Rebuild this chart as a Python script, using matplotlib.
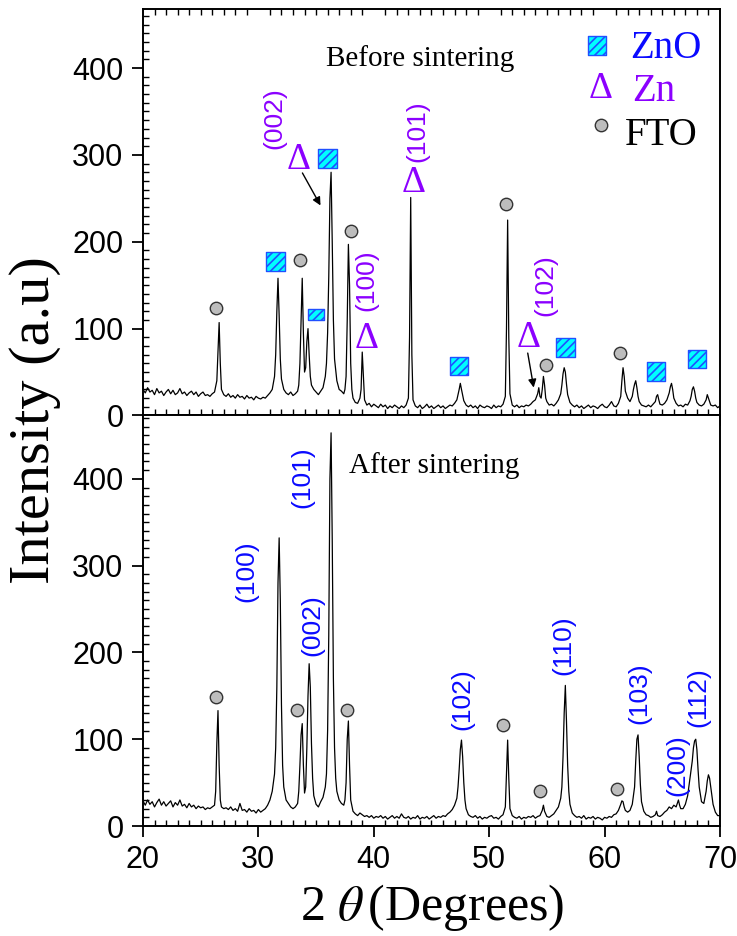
import matplotlib.pyplot as plt
from matplotlib.ticker import MultipleLocator

# XRD trace before sintering (2theta, counts)
tt_before = [
    20.0, 20.2, 20.4, 20.6, 20.8, 21.0, 21.2, 21.4, 21.6, 21.8, 22.0, 22.2, 22.4, 22.6, 22.8, 23.0,
    23.2, 23.4, 23.6, 23.8, 24.0, 24.2, 24.4, 24.6, 24.8, 25.0, 25.2, 25.4, 25.6, 25.8, 26.0, 26.2,
    26.4, 26.5, 26.6, 26.7, 26.8, 27.0,
    27.2, 27.4, 27.6, 27.8, 28.0, 28.2, 28.4, 28.6, 28.8, 29.0, 29.2, 29.4, 29.6, 29.8, 30.0, 30.2,
    30.4, 30.6, 30.8, 31.0,
    31.2, 31.4, 31.5, 31.6, 31.7, 31.8, 31.9, 32.0, 32.2, 32.4,
    32.6, 32.8, 33.0, 33.2, 33.4,
    33.5, 33.6, 33.7, 33.8, 33.9, 34.0, 34.1, 34.2, 34.3, 34.4, 34.5, 34.6, 34.8, 35.0, 35.2, 35.4,
    35.6, 35.8,
    35.9, 36.0, 36.1, 36.2, 36.3, 36.4, 36.5, 36.6, 36.8, 37.0, 37.2, 37.4,
    37.5, 37.6, 37.7, 37.8, 37.9, 38.0, 38.1, 38.2, 38.4, 38.6, 38.8,
    38.9, 39.0, 39.1, 39.2, 39.4, 39.6, 39.8, 40.0,
    40.2, 40.4, 40.6, 40.8, 41.0, 41.2, 41.4, 41.6, 41.8, 42.0, 42.2, 42.4, 42.6, 42.8,
    43.0, 43.1, 43.2, 43.3, 43.4, 43.6,
    43.8, 44.0, 44.2, 44.4, 44.6, 44.8, 45.0, 45.2, 45.4, 45.6, 45.8, 46.0, 46.2, 46.4, 46.6, 46.8,
    47.0,
    47.2, 47.4, 47.5, 47.6, 47.8, 48.0,
    48.2, 48.4, 48.6, 48.8, 49.0, 49.2, 49.4, 49.6, 49.8, 50.0, 50.2, 50.4, 50.6, 50.8, 51.0, 51.2,
    51.4, 51.5, 51.6, 51.7, 51.8, 52.0,
    52.2, 52.4, 52.6, 52.8, 53.0, 53.2, 53.4, 53.6, 53.8,
    54.0, 54.2, 54.3, 54.4, 54.5, 54.6, 54.7, 54.8, 54.9, 55.0, 55.2, 55.4, 55.6, 55.8, 56.0,
    56.2, 56.3, 56.4, 56.5, 56.6, 56.7, 56.8, 57.0, 57.2,
    57.4, 57.6, 57.8, 58.0, 58.2, 58.4, 58.6, 58.8, 59.0, 59.2, 59.4, 59.6, 59.8, 60.0, 60.2, 60.4,
    60.6, 60.8, 61.0, 61.2,
    61.4, 61.5, 61.6, 61.7, 61.8, 62.0, 62.2, 62.4, 62.5, 62.6, 62.7, 62.8, 62.9, 63.0, 63.2,
    63.4, 63.6, 63.8, 64.0, 64.2,
    64.4, 64.5, 64.6, 64.7, 64.8, 65.0, 65.2, 65.4,
    65.6, 65.7, 65.8, 65.9, 66.0, 66.2, 66.4, 66.6, 66.8, 67.0, 67.2, 67.4,
    67.5, 67.6, 67.7, 67.8, 67.9, 68.0, 68.2, 68.4, 68.6, 68.8, 68.9, 69.0, 69.2, 69.4, 69.6, 69.8,
    70.0,
]
counts_before = [
    30, 26, 32, 27, 29, 24, 31, 26, 28, 23, 27, 30, 25, 29, 24, 26,
    31, 25, 27, 23, 26, 28, 24, 27, 22, 25, 27, 23, 24, 22, 25, 27,
    40, 75, 107, 60, 30, 24,
    22, 25, 21, 23, 20, 24, 21, 22, 19, 23, 20, 21, 18, 22, 20, 19,
    21, 20, 23, 26,
    30, 45, 70, 120, 158, 115, 65, 42, 30, 26,
    24, 27, 23, 25, 28,
    35, 60, 110, 158, 95, 50, 55, 85, 100, 70, 45, 35, 30, 27, 24, 28,
    32, 45,
    60, 95, 160, 250, 280, 200, 110, 65, 40, 30, 28, 25,
    30, 45, 110, 197, 150, 60, 30, 20, 15, 14, 20,
    30, 73, 45, 18, 12, 14, 10, 13,
    11, 9, 13, 10, 12, 8, 11, 9, 12, 10, 8, 11, 9, 12,
    20, 90, 251, 70, 18, 11,
    9, 12, 8, 10, 13, 9, 11, 8, 10, 12, 9, 11, 8, 10, 12, 11,
    14,
    18, 30, 37, 30, 17, 12,
    10, 12, 9, 11, 8, 12, 10, 9, 11, 10, 8, 12, 9, 11, 10, 13,
    22, 100, 225, 90, 25, 12,
    10, 12, 9, 11, 10, 12, 11, 13, 16,
    18, 25, 32, 22, 20, 30, 45, 35, 20, 16, 12, 13, 11, 14, 18,
    25, 35, 48, 55, 50, 36, 24, 15, 12,
    10, 12, 9, 11, 8, 10, 12, 9, 11, 10, 8, 11, 13, 10, 9, 12,
    16, 11, 10, 14,
    22, 40, 55, 45, 28, 20, 16, 22, 30, 36, 40, 32, 22, 16, 12,
    11, 10, 12, 10, 13,
    16, 22, 24, 18, 13, 12, 14, 18,
    26, 33, 37, 30, 20, 14, 11, 12, 10, 13, 12, 17,
    22, 30, 33, 28, 20, 15, 12, 11, 13, 18, 24, 20, 12, 11, 12, 9,
    11,
]

# XRD trace after sintering
tt_after = [
    20.0, 20.2, 20.4, 20.6, 20.8, 21.0, 21.2, 21.4, 21.6, 21.8, 22.0, 22.2, 22.4, 22.6, 22.8, 23.0,
    23.2, 23.4, 23.6, 23.8, 24.0, 24.2, 24.4, 24.6, 24.8, 25.0, 25.2, 25.4, 25.6, 25.8, 26.0, 26.2,
    26.3, 26.4, 26.5, 26.6, 26.7, 26.8, 27.0,
    27.2, 27.4, 27.6, 27.8, 28.0, 28.2, 28.4, 28.6, 28.8, 29.0, 29.2, 29.4, 29.6, 29.8, 30.0, 30.2,
    30.4, 30.6, 30.8,
    31.0, 31.2, 31.4, 31.5, 31.6, 31.7, 31.8, 31.9, 32.0, 32.1, 32.2, 32.4, 32.6, 32.8, 33.0, 33.2,
    33.4, 33.5, 33.6, 33.7, 33.8, 33.9, 34.0, 34.1, 34.2, 34.3, 34.4, 34.5, 34.6, 34.7, 34.8, 35.0,
    35.2, 35.4, 35.6, 35.8,
    35.9, 36.0, 36.1, 36.2, 36.3, 36.4, 36.5, 36.6, 36.7, 36.8, 37.0, 37.2, 37.4,
    37.5, 37.6, 37.7, 37.8, 37.9, 38.0, 38.2, 38.4, 38.6, 38.8,
    39.0, 39.2, 39.4, 39.6, 39.8, 40.0, 40.2, 40.4, 40.6, 40.8, 41.0, 41.2, 41.4, 41.6, 41.8, 42.0,
    42.2, 42.4, 42.6, 42.8, 43.0, 43.2, 43.4, 43.6, 43.8, 44.0, 44.2, 44.4, 44.6, 44.8, 45.0, 45.2,
    45.4, 45.6, 45.8, 46.0, 46.2, 46.4, 46.6, 46.8, 47.0,
    47.2, 47.3, 47.4, 47.5, 47.6, 47.7, 47.8, 47.9, 48.0, 48.2, 48.4,
    48.6, 48.8, 49.0, 49.2, 49.4, 49.6, 49.8, 50.0, 50.2, 50.4, 50.6, 50.8, 51.0, 51.2,
    51.4, 51.5, 51.6, 51.7, 51.8, 52.0,
    52.2, 52.4, 52.6, 52.8, 53.0, 53.2, 53.4, 53.6, 53.8, 54.0, 54.2, 54.4,
    54.6, 54.7, 54.8, 55.0, 55.2,
    55.4, 55.6, 55.8,
    56.0, 56.2, 56.3, 56.4, 56.5, 56.6, 56.7, 56.8, 56.9, 57.0, 57.2, 57.4,
    57.6, 57.8, 58.0, 58.2, 58.4, 58.6, 58.8, 59.0, 59.2, 59.4, 59.6, 59.8, 60.0, 60.2, 60.4, 60.6,
    60.8,
    61.0, 61.2, 61.4, 61.5, 61.6, 61.7, 61.8, 62.0, 62.2, 62.4, 62.6, 62.7, 62.8, 62.9, 63.0, 63.1,
    63.2, 63.4, 63.6,
    63.8, 64.0, 64.2,
    64.4, 64.5, 64.6, 64.8, 65.0, 65.2, 65.4, 65.6, 65.8, 66.0, 66.2, 66.3, 66.4, 66.5, 66.6, 66.8,
    67.0, 67.2, 67.4,
    67.6, 67.7, 67.8, 67.9, 68.0, 68.1, 68.2, 68.4, 68.6, 68.8, 68.9, 69.0, 69.1, 69.2, 69.4, 69.6,
    69.8, 70.0,
]
counts_after = [
    29, 24, 30, 25, 28, 22, 27, 31, 24, 28, 23, 26, 29, 22, 27, 24,
    30, 23, 25, 21, 26, 22, 24, 20, 23, 21, 22, 19, 21, 20, 22, 24,
    40, 95, 133, 70, 30, 22, 20,
    21, 19, 22, 18, 20, 17, 26, 18, 19, 16, 20, 17, 18, 15, 19, 16,
    18, 20, 24,
    30, 40, 60, 90, 160, 280, 332, 260, 140, 70, 45, 30, 26, 22, 20, 22,
    26, 40, 70, 105, 118, 70, 38, 45, 90, 150, 187, 160, 95, 55, 35, 25,
    22, 28, 33, 45,
    60, 110, 220, 400, 453, 330, 170, 90, 55, 40, 30, 26, 24,
    30, 50, 100, 121, 70, 30, 17, 14, 12, 15,
    13, 11, 12, 10, 12, 9, 11, 10, 12, 9, 11, 8, 10, 12, 9, 11,
    9, 14, 10, 9, 11, 8, 10, 9, 12, 8, 10, 9, 11, 8, 10, 12,
    9, 11, 10, 12, 11, 14, 16, 19, 24,
    32, 45, 65, 88, 99, 80, 50, 30, 20, 13, 11,
    10, 12, 9, 11, 8, 10, 9, 11, 12, 9, 10, 8, 11, 13,
    22, 60, 99, 55, 20, 12,
    10, 9, 11, 8, 10, 9, 11, 10, 12, 9, 11, 12,
    18, 24, 17, 11, 10,
    12, 14, 18,
    22, 32, 45, 80, 130, 162, 120, 70, 40, 25, 15, 12,
    10, 11, 9, 12, 8, 10, 9, 11, 8, 10, 9, 7, 10, 9, 11, 10,
    13,
    14, 18, 25, 29, 28, 22, 18, 16, 18, 25, 45, 75, 100, 105, 80, 48,
    28, 17, 13,
    12, 10, 11,
    13, 17, 12, 11, 13, 16, 18, 22, 20, 24, 22, 26, 30, 24, 20, 20,
    25, 35, 55,
    75, 90, 98, 100, 88, 65, 45, 28, 26, 40, 52, 59, 55, 45, 25, 16,
    12, 12,
]

# phase markers, top panel
zno_before = [(31.5, 177), (36.0, 296), (47.4, 57), (56.6, 78), (64.45, 51), (68.0, 65)]
zno_small = (35.0, 116)
fto_before = [(26.3, 124), (33.6, 179), (38.0, 212), (51.5, 243), (54.9, 58), (61.3, 72)]
zn_delta = [(33.45, 284), (43.45, 257), (39.4, 78), (53.4, 79)]
zn_labels = [("(002)", 31.35, 342), ("(101)", 43.75, 327), ("(100)", 39.4, 156), ("(102)", 54.9, 150)]

# bottom panel
fto_after = [(26.3, 149), (33.35, 134), (37.7, 134), (51.2, 116), (54.4, 40), (61.1, 43)]
zno_labels = [("(100)", 29.0, 294), ("(101)", 33.8, 402), ("(002)", 34.65, 232),
              ("(102)", 47.7, 146), ("(110)", 56.4, 208), ("(103)", 63.0, 153),
              ("(200)", 66.3, 70), ("(112)", 68.1, 149)]

purple = '#8b00ff'
blue = '#0a0aff'
serif = 'Liberation Serif'
plt.rcParams['font.family'] = 'Liberation Sans'
plt.rcParams['mathtext.fontset'] = 'stix'
plt.rcParams['hatch.linewidth'] = 1.2

fig = plt.figure(figsize=(7.37, 9.36), dpi=100)
ax1 = fig.add_axes([0.194, 0.5561, 0.7829, 0.4343])
ax2 = fig.add_axes([0.194, 0.1175, 0.7829, 0.4386])

ax1.plot(tt_before, counts_before, color='black', lw=0.9)
ax2.plot(tt_after, counts_after, color='black', lw=0.9)

for ax, top in ((ax1, 468), (ax2, 473)):
    ax.set_xlim(20, 70)
    ax.set_ylim(0, top)
    ax.xaxis.set_major_locator(MultipleLocator(10))
    ax.xaxis.set_minor_locator(MultipleLocator(1))
    ax.yaxis.set_major_locator(MultipleLocator(100))
    ax.yaxis.set_minor_locator(MultipleLocator(10))
    ax.tick_params(which='major', direction='out', length=8, width=1.3, labelsize=22, pad=6)
    ax.tick_params(which='minor', direction='in', length=4, width=1.0)
    for s in ax.spines.values():
        s.set_linewidth(1.4)
ax1.tick_params(axis='x', labelbottom=False)
ax1.tick_params(axis='x', which='minor', top=True)

# markers, top
zx, zy = zip(*zno_before)
ax1.scatter(zx, zy, marker='s', s=180, facecolor='#00ffff', edgecolor='#2050ff',
            hatch='////', linewidths=1, zorder=5)
ax1.scatter([zno_small[0]], [zno_small[1]], s=130, facecolor='#00ffff', edgecolor='#2050ff',
            hatch='////', linewidths=1, zorder=5,
            marker=[(-1, -0.7), (1, -0.7), (1, 0.7), (-1, 0.7), (-1, -0.7)])
fx, fy = zip(*fto_before)
ax1.scatter(fx, fy, marker='o', s=80, facecolor='#bdbdbd', edgecolor='#333333', linewidths=1, zorder=5)
for x, y in zn_delta:
    ax1.text(x, y, 'Δ', color=purple, fontsize=27, family=serif, ha='center', va='baseline')
for lab, x, y in zn_labels:
    ax1.text(x, y, lab, color=purple, fontsize=19, rotation=90, ha='center', va='center')
ax1.annotate('', xy=(35.5, 239), xytext=(33.7, 282),
             arrowprops=dict(arrowstyle='-|>', color='black', lw=1, mutation_scale=12))
ax1.annotate('', xy=(53.9, 29), xytext=(53.3, 75),
             arrowprops=dict(arrowstyle='-|>', color='black', lw=1, mutation_scale=12))
ax1.text(35.9, 411, 'Before sintering', fontsize=21, family=serif, va='center')

# legend
ax1.scatter([59.35], [426], marker='s', s=180, facecolor='#00ffff', edgecolor='#2050ff',
            hatch='////', linewidths=1, zorder=5)
ax1.text(62.2, 411.5, 'ZnO', color=blue, fontsize=28, family=serif, va='baseline')
ax1.text(59.7, 366, 'Δ', color=purple, fontsize=27, family=serif, ha='center', va='baseline')
ax1.text(62.4, 362, 'Zn', color=purple, fontsize=28, family=serif, va='baseline')
ax1.scatter([59.7], [334], marker='o', s=80, facecolor='#bdbdbd', edgecolor='#333333', linewidths=1, zorder=5)
ax1.text(61.8, 311, 'FTO', color='black', fontsize=28, family=serif, va='baseline')

# markers, bottom
fx, fy = zip(*fto_after)
ax2.scatter(fx, fy, marker='o', s=80, facecolor='#bdbdbd', edgecolor='#333333', linewidths=1, zorder=5)
for lab, x, y in zno_labels:
    ax2.text(x, y, lab, color=blue, fontsize=19, rotation=90, ha='center', va='center')
ax2.text(37.85, 415, 'After sintering', fontsize=21, family=serif, va='center')

fig.text(0.047, 0.551, 'Intensity (a.u)', rotation=90, fontsize=42, family=serif,
         ha='center', va='center')
fig.text(0.586, 0.03, '2 $\\theta\\,$(Degrees)', fontsize=36, family=serif,
         ha='center', va='center')

plt.savefig('out.png', dpi=100)
